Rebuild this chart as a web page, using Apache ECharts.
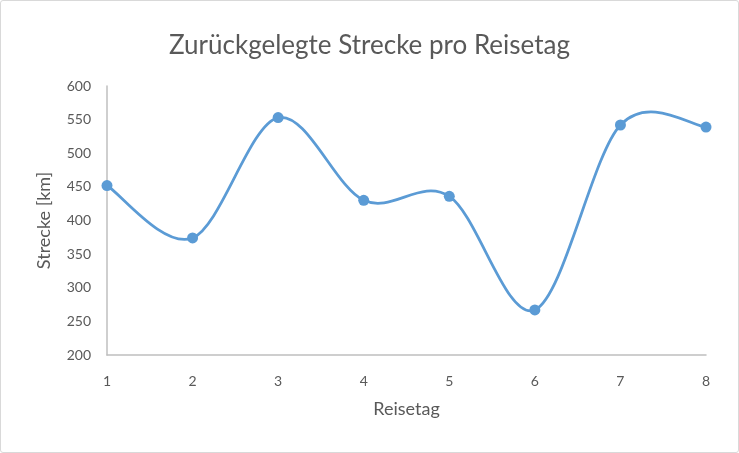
<!DOCTYPE html>
<html><head><meta charset="utf-8">
<script src="https://cdn.jsdelivr.net/npm/echarts@6/dist/echarts.min.js"></script>
<style>html,body{margin:0;padding:0;background:#fff}#c{width:739px;height:453px;box-sizing:border-box;border:1px solid #d9d9d9;border-radius:3px}</style>
</head><body><div id="c"></div>
<script>
const categories = ['1','2','3','4','5','6','7','8'];
const distances = [452, 374, 553, 430, 436, 267, 542, 539];
const yTicks = [200, 600, 50];
const chart = echarts.init(document.getElementById('c'));
const font = 'Lato';
const color = '#5b9bd5';
// smooth (Catmull-Rom style, as in spreadsheet smoothed lines) segments drawn through the axes' scales
function renderSegment(params, api) {
  const i = params.dataIndex;
  if (i >= distances.length - 1) return null;
  const P = k => api.coord([Math.max(0, Math.min(distances.length - 1, k)), distances[Math.max(0, Math.min(distances.length - 1, k))]]);
  const p0 = P(i - 1), p1 = P(i), p2 = P(i + 1), p3 = P(i + 2);
  const t = 1 / 6;
  return {
    type: 'bezierCurve',
    shape: {
      x1: p1[0], y1: p1[1], x2: p2[0], y2: p2[1],
      cpx1: p1[0] + (p2[0] - p0[0]) * t, cpy1: p1[1] + (p2[1] - p0[1]) * t,
      cpx2: p2[0] - (p3[0] - p1[0]) * t, cpy2: p2[1] - (p3[1] - p1[1]) * t
    },
    style: {stroke: color, lineWidth: 2.75, fill: null, lineCap: 'round'}
  };
}
chart.setOption({
  animation: false,
  title: {text: 'Zurückgelegte Strecke pro Reisetag', left: 'center', top: 27,
    textStyle: {fontFamily: font, fontSize: 26, fontWeight: 'normal', color: '#595959'}},
  grid: {left: 106, right: 32, top: 85, bottom: 97, containLabel: false},
  xAxis: {type: 'category', data: categories, boundaryGap: false,
    name: 'Reisetag', nameLocation: 'middle', nameGap: 45,
    nameTextStyle: {fontFamily: font, fontSize: 18, color: '#595959'},
    axisLine: {lineStyle: {color: '#bfbfbf', width: 1.5}}, axisTick: {show: false},
    axisLabel: {fontFamily: font, fontSize: 14, color: '#595959', margin: 19}},
  yAxis: {type: 'value', min: yTicks[0], max: yTicks[1], interval: yTicks[2],
    name: 'Strecke [km]', nameLocation: 'middle', nameGap: 54, nameMoveOverlap: false,
    nameTextStyle: {fontFamily: font, fontSize: 18, color: '#595959'},
    axisLine: {show: true, lineStyle: {color: '#bfbfbf', width: 1.5}}, axisTick: {show: false},
    splitLine: {show: false},
    axisLabel: {fontFamily: font, fontSize: 14, color: '#595959', margin: 16}},
  series: [
    {type: 'custom', renderItem: renderSegment, data: distances.map((v, i) => [i, v]),
      encode: {x: 0, y: 1}, z: 2, silent: true},
    {type: 'scatter', data: distances, symbol: 'circle', symbolSize: 11,
      itemStyle: {color: color, opacity: 1}, z: 3}
  ]
});
</script></body></html>
